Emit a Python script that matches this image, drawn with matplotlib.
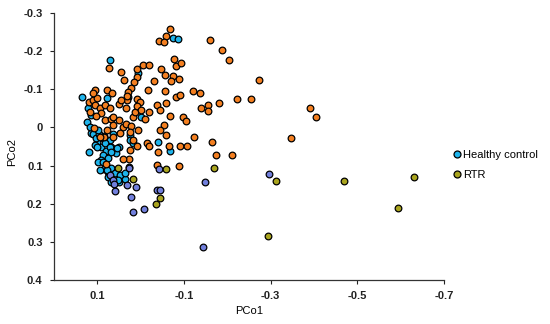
import matplotlib
matplotlib.use('Agg')
import matplotlib.pyplot as plt
from matplotlib.lines import Line2D

plt.rcParams['font.family'] = ['Liberation Sans', 'DejaVu Sans']

# PCoA coordinates
hc_x = [-0.075, -0.087, 0.071, 0.006, 0.029, 0.135, 0.121, 0.076, 0.124, 0.113,
        0.113, 0.109, 0.100, 0.090, 0.118, 0.080, 0.067, 0.049, 0.023, 0.057,
        0.103, 0.095, 0.084, 0.063, 0.105, 0.086, 0.090, 0.098, 0.084, 0.094,
        0.075, 0.067, 0.059, 0.075, 0.049, 0.036, 0.026, -0.041, -0.068, 0.071,
        0.117, 0.098, 0.086, 0.082, 0.101, 0.071, 0.055, 0.067, 0.075, 0.086,
        0.078, 0.048, 0.036, 0.025, 0.017, -0.002, 0.067, 0.052]
hc_y = [-0.233, -0.231, -0.176, -0.141, -0.080, -0.079, -0.052, -0.077, -0.015, -0.032,
        0.016, 0.018, 0.038, 0.051, 0.065, 0.061, 0.051, 0.051, 0.020, 0.068,
        0.029, 0.018, 0.023, 0.018, 0.046, 0.073, 0.086, 0.091, 0.109, 0.112,
        0.116, 0.107, 0.120, 0.131, 0.142, 0.136, 0.103, 0.038, 0.061, 0.033,
        -0.002, 0.007, 0.029, 0.042, 0.051, 0.051, 0.055, 0.064, 0.081, 0.090,
        0.112, 0.125, 0.120, 0.033, 0.042, -0.028, 0.142, 0.138]

rtr_x = [-0.068, -0.060, -0.042, -0.055, -0.161, -0.189, -0.203, 0.072, 0.044, 0.038,
         0.009, 0.009, -0.006, -0.020, -0.047, -0.077, -0.081, -0.094, -0.031, -0.057,
         -0.074, -0.089, -0.070, 0.015, 0.022, 0.029, 0.032, 0.008, 0.002, -0.018,
         -0.057, -0.081, -0.091, -0.120, -0.137, -0.037, -0.058, -0.044, -0.139, -0.156,
         -0.156, -0.182, -0.222, -0.255, -0.274, -0.391, -0.405, -0.346, -0.165, -0.173,
         -0.210, 0.118, 0.109, 0.105, 0.099, 0.105, 0.117, 0.094, 0.090, 0.103,
         0.078, 0.065, 0.081, 0.071, 0.049, 0.034, 0.045, 0.082, 0.068, 0.063,
         0.041, 0.034, 0.021, 0.018, 0.012, 0.008, -0.002, -0.011, -0.020, -0.069,
         -0.098, -0.106, -0.054, -0.046, -0.060, -0.123, -0.014, -0.020, -0.066, -0.092,
         -0.108, -0.041, 0.026, 0.040, 0.007, 0.018, 0.025, 0.006, 0.048, 0.063,
         0.084, 0.107, 0.080, 0.023, -0.037, -0.088, 0.094, 0.063, 0.049, 0.077,
         0.109, 0.030]
rtr_y = [-0.257, -0.240, -0.226, -0.224, -0.229, -0.202, -0.175, -0.156, -0.144, -0.124,
         -0.154, -0.131, -0.163, -0.163, -0.152, -0.179, -0.161, -0.169, -0.121, -0.136,
         -0.135, -0.127, -0.121, -0.119, -0.102, -0.092, -0.071, -0.074, -0.067, -0.098,
         -0.095, -0.079, -0.085, -0.094, -0.091, -0.058, -0.063, -0.045, -0.052, -0.058,
         -0.042, -0.065, -0.075, -0.075, -0.125, -0.051, -0.028, 0.027, 0.038, 0.071,
         0.073, -0.067, -0.071, -0.098, -0.076, -0.058, -0.041, -0.050, -0.037, -0.030,
         -0.099, -0.089, -0.058, -0.052, -0.061, -0.052, -0.071, -0.019, -0.021, -0.006,
         -0.002, -0.010, -0.003, -0.028, -0.041, -0.056, -0.045, -0.021, -0.041, -0.030,
         -0.028, -0.017, -0.006, 0.007, 0.020, 0.025, 0.042, 0.049, 0.048, 0.048,
         0.049, 0.065, 0.084, 0.084, 0.048, 0.033, 0.012, 0.007, 0.016, 0.025,
         0.025, 0.001, 0.097, 0.059, 0.098, 0.101, 0.025, -0.028, -0.019, 0.007,
         -0.089, -0.083]

grp3_x = [0.071, 0.063, 0.062, 0.026, 0.032, 0.011, 0.059, 0.021, 0.017, -0.008,
          -0.037, -0.046, -0.043, -0.148, -0.297, -0.144]
grp3_y = [0.125, 0.138, 0.147, 0.107, 0.151, 0.155, 0.166, 0.182, 0.221, 0.214,
          0.164, 0.164, 0.109, 0.142, 0.122, 0.312]

grp4_x = [0.051, 0.017, -0.035, -0.046, -0.060, -0.169, -0.313, -0.468, -0.630, -0.593, -0.294]
grp4_y = [0.105, 0.136, 0.201, 0.186, 0.109, 0.105, 0.141, 0.141, 0.129, 0.211, 0.284]

c_hc = '#1eb4ec'
c_rtr = '#f47f20'
c_g3 = '#717fdc'
c_g4 = '#a9a41e'

fig = plt.figure(figsize=(5.5, 3.24), dpi=100)
ax = fig.add_axes([0.0975, 0.1349, 0.7103, 0.8259])

kw = dict(s=23, edgecolors='black', linewidths=0.9, zorder=3)
ax.scatter(hc_x, hc_y, c=c_hc, **kw)
ax.scatter(rtr_x, rtr_y, c=c_rtr, **kw)
ax.scatter(grp3_x, grp3_y, c=c_g3, **kw)
ax.scatter(grp4_x, grp4_y, c=c_g4, **kw)

ax.set_xlim(0.2, -0.7)
ax.set_ylim(0.4, -0.3)
ax.set_xticks([0.1, -0.1, -0.3, -0.5, -0.7])
ax.set_xticklabels(['0.1', '-0.1', '-0.3', '-0.5', '-0.7'])
ax.set_yticks([-0.3, -0.2, -0.1, 0, 0.1, 0.2, 0.3, 0.4])
ax.set_yticklabels(['-0.3', '-0.2', '-0.1', '0', '0.1', '0.2', '0.3', '0.4'])
for lab in ax.get_xticklabels() + ax.get_yticklabels():
    lab.set_fontweight('bold')
ax.tick_params(labelsize=8, length=3, width=0.8, pad=5, colors='#222222')

for side in ['top', 'right']:
    ax.spines[side].set_visible(False)
for side in ['left', 'bottom']:
    ax.spines[side].set_linewidth(0.9)
    ax.spines[side].set_color('#333333')

ax.set_xlabel('PCo1', fontsize=8, labelpad=3)
ax.set_ylabel('PCo2', fontsize=8)
ax.yaxis.set_label_coords(-0.093, 0.48)

handles = [Line2D([], [], ls='none', marker='o', ms=5, mfc=c_hc, mec='black', mew=0.9),
           Line2D([], [], ls='none', marker='o', ms=5, mfc=c_g4, mec='black', mew=0.9)]
fig.legend(handles, ['Healthy control', 'RTR'], loc='upper left',
           bbox_to_anchor=(0.815, 0.555), frameon=False, fontsize=8,
           handlelength=0.6, handletextpad=0.25, labelspacing=0.9, borderpad=0)

fig.savefig('out.png', dpi=100)
